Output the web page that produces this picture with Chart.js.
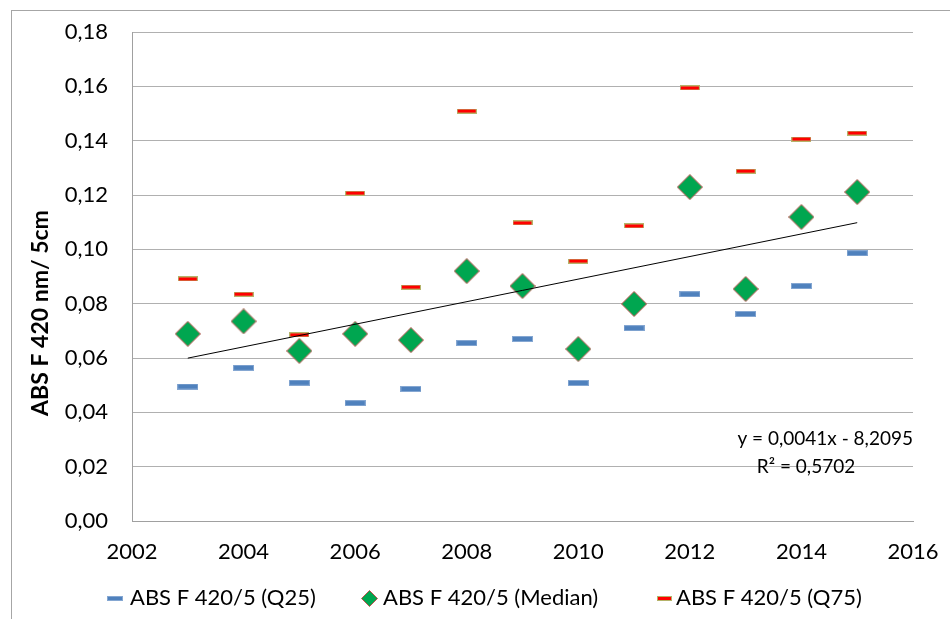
<!DOCTYPE html>
<html><head><meta charset="utf-8">
<script src="https://cdn.jsdelivr.net/npm/chart.js@4"></script>
<style>html,body{margin:0;padding:0;background:#fff}#wrap{width:950px;height:619px;position:relative}</style>
</head><body><div id="wrap"><canvas id="c" width="950" height="619"></canvas></div>
<script>
const years = [2003,2004,2005,2006,2007,2008,2009,2010,2011,2012,2013,2014,2015];
const q25 = [0.0495,0.0564,0.0509,0.0434,0.0486,0.0655,0.0670,0.0508,0.0710,0.0835,0.0762,0.0865,0.0986];
const median = [0.0689,0.0735,0.0626,0.0689,0.0666,0.0920,0.0865,0.0633,0.0799,0.1229,0.0854,0.1119,0.1211];
const q75 = [0.0891,0.0835,0.0685,0.1207,0.0861,0.1509,0.1097,0.0957,0.1086,0.1594,0.1288,0.1406,0.1428];
const seriesNames = ['ABS F 420/5 (Q25)','ABS F 420/5 (Median)','ABS F 420/5 (Q75)'];
const trendText = ['y = 0,0041x - 8,2095','R² = 0,5702'];
const yTitle = 'ABS F 420 nm/ 5cm';

// least-squares trend of the median series (as in the spreadsheet trendline)
const n = years.length;
const mx = years.reduce((a,b)=>a+b,0)/n, my = median.reduce((a,b)=>a+b,0)/n;
let sxy=0, sxx=0; years.forEach((x,i)=>{sxy+=(x-mx)*(median[i]-my); sxx+=(x-mx)*(x-mx);});
const slope = sxy/sxx, icpt = my - slope*mx;
const trendX = [years[0], years[n-1]];

function mkDash(w,h,fill,stroke){
  const c=document.createElement('canvas'); c.width=w; c.height=h;
  const x=c.getContext('2d');
  x.fillStyle=stroke; x.fillRect(0,0,w,h);
  x.fillStyle=fill; x.fillRect(1,1,w-2,h-2);
  return c;
}
function mkDiamond(s){
  const c=document.createElement('canvas'); c.width=s; c.height=s;
  const x=c.getContext('2d'); const h=s/2;
  x.beginPath(); x.moveTo(h,0.5); x.lineTo(s-0.5,h); x.lineTo(h,s-0.5); x.lineTo(0.5,h); x.closePath();
  x.fillStyle='#00A650'; x.fill(); x.strokeStyle='#C0504D'; x.lineWidth=1; x.stroke();
  return c;
}
const q25Img = mkDash(21,6,'#4F81BD','#85A7D2');
const q75Img = mkDash(20,5,'#FF0000','#B5B36A');
const medImg = mkDiamond(26);
const legImgs = [mkDash(16,5,'#4F81BD','#85A7D2'), mkDiamond(17), mkDash(15,5,'#FF0000','#B5B36A')];

const FONT = 'Lato, "Liberation Sans", sans-serif';
const fmt = v => v.toFixed(2).replace('.', ',');

const extras = {
  id:'extras',
  beforeDraw(chart){
    const ctx=chart.ctx; ctx.save();
    ctx.strokeStyle='#A6A6A6'; ctx.lineWidth=1;
    ctx.strokeRect(11.5,10.5,960,700);
    ctx.restore();
  },
  afterDraw(chart){
    const ctx=chart.ctx, a=chart.chartArea; ctx.save();
    ctx.fillStyle='#000'; ctx.textBaseline='middle';
    // trendline label
    ctx.font='19px '+FONT;
    ctx.textAlign='right';
    ctx.fillText(trendText[0], a.right, a.top+407);
    ctx.textAlign='center';
    ctx.fillText(trendText[1], a.right-107, a.top+435);
    // y axis title
    ctx.save();
    ctx.translate(a.left-91, a.top+281);
    ctx.rotate(-Math.PI/2);
    ctx.font='bold 23px '+FONT; ctx.textAlign='center';
    ctx.fillText(yTitle,0,0);
    ctx.restore();
    // legend
    ctx.font='22px '+FONT; ctx.textAlign='left';
    const ly = 598;
    const starts=[107,361,657];
    const toText=[23,22,19];
    seriesNames.forEach((t,i)=>{
      const img=legImgs[i];
      ctx.drawImage(img, starts[i], Math.round(ly-img.height/2));
      ctx.fillText(t, starts[i]+toText[i], ly);
    });
    ctx.restore();
  }
};

new Chart(document.getElementById('c'), {
  type:'scatter',
  data:{datasets:[
    {label:seriesNames[0], data:years.map((x,i)=>({x,y:q25[i]})), pointStyle:q25Img, order:2},
    {label:seriesNames[1], data:years.map((x,i)=>({x,y:median[i]})), pointStyle:medImg, order:1},
    {label:seriesNames[2], data:years.map((x,i)=>({x,y:q75[i]})), pointStyle:q75Img, order:3},
    {label:'trend', type:'line', data:trendX.map(x=>({x,y:slope*x+icpt})), borderColor:'#000', borderWidth:1, pointRadius:0, fill:false, order:0}
  ]},
  options:{
    responsive:false, animation:false, devicePixelRatio:1,
    layout:{padding:{left:0,right:37,top:32,bottom:43}, autoPadding:false},
    plugins:{ tooltip:{enabled:false}, legend:{display:false} },
    scales:{
      x:{type:'linear', min:2002, max:2016,
        ticks:{stepSize:2, font:{size:22,family:FONT}, color:'#000', padding:18, callback:v=>String(v)},
        grid:{display:false, drawTicks:false},
        border:{color:'#A0A0A0'},
        afterFit(s){s.height=55; s.paddingLeft=0; s.paddingRight=0;}
      },
      y:{min:0, max:0.18,
        ticks:{stepSize:0.02, font:{size:22,family:FONT}, color:'#000', padding:24, callback:v=>fmt(v)},
        grid:{color:'#B0B0B0', drawTicks:false},
        border:{color:'#A0A0A0'},
        afterFit(s){s.width=132; s.paddingTop=0; s.paddingBottom=0;}
      }
    }
  },
  plugins:[extras]
});
</script></body></html>
